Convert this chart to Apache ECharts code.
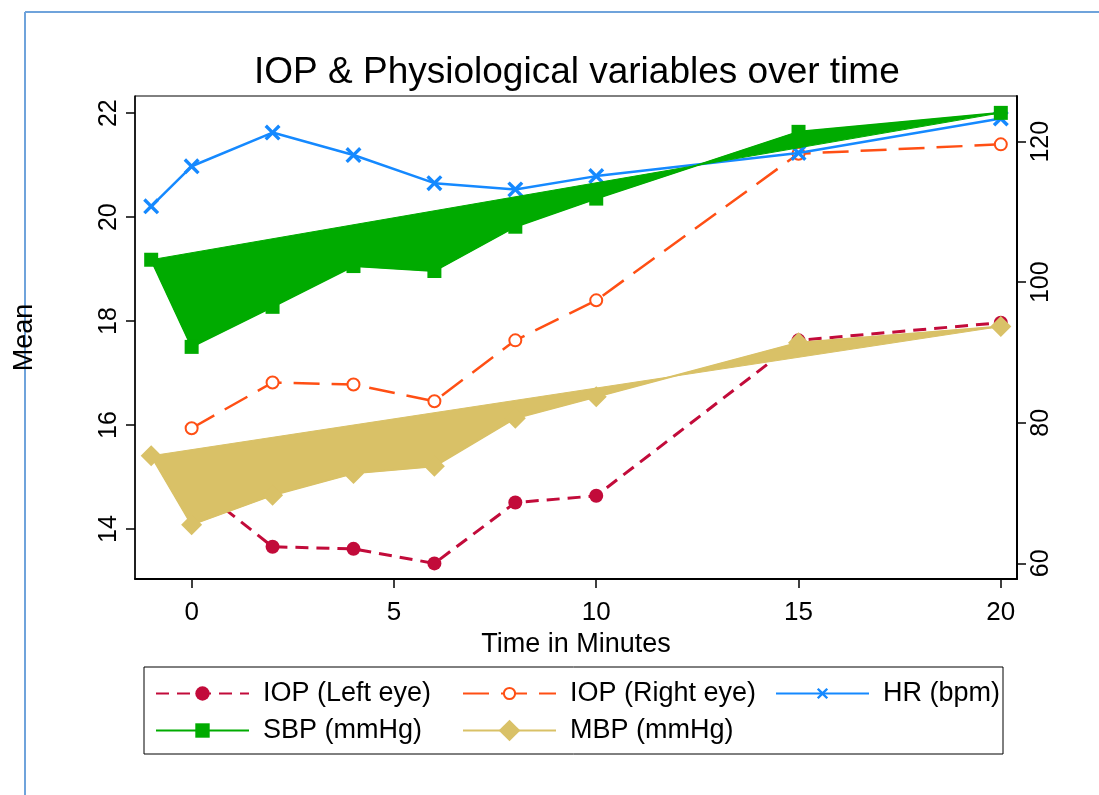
<!DOCTYPE html>
<html>
<head>
<meta charset="utf-8">
<script src="https://cdn.jsdelivr.net/npm/echarts@6/dist/echarts.min.js"></script>
<style>
  html, body { margin: 0; padding: 0; background: #fff; }
  #main { width: 1099px; height: 795px; }
</style>
</head>
<body>
<div id="main"></div>
<script>
// time points (minutes)
var time = [-1, 0, 2, 4, 6, 8, 10, 15, 20];
// IOP, left axis
var iopLeft = [null, 14.89, 13.66, 13.62, 13.34, 14.51, 14.64, 17.63, 17.97];
var iopRight = [null, 15.94, 16.82, 16.78, 16.46, 17.63, 18.40, 21.22, 21.40];
// physiological, right axis
var hr = [110.8, 116.5, 121.3, 118.1, 114.1, 113.2, 115.1, 118.4, 123.3];
var sbp = [103.2, 90.8, 96.5, 102.3, 101.6, 107.9, 111.9, 121.4, 124.1];
var mbp = [75.3, 65.5, 69.7, 72.8, 73.8, 80.65, 83.7, 91.4, 93.7];

var xTicks = [0, 5, 10, 15, 20];
var leftTicks = [14, 16, 18, 20, 22];
var rightTicks = [60, 80, 100, 120];

var FONT = 'Liberation Sans, Arial, sans-serif';
var cLeft = '#c20b3a', cRight = '#ff4f14', cHr = '#1589ff', cSbp = '#00ab00', cMbp = '#d9c167';

var xMark = 'path://M0,1.5L1.5,0L5,3.5L8.5,0L10,1.5L6.5,5L10,8.5L8.5,10L5,6.5L1.5,10L0,8.5L3.5,5Z';

function pairs(vals) {
    return time.map(function (t, i) { return [t, vals[i]]; });
}

// Stata-like area: closed polygon through the points
function areaSeries(name, vals, color, z) {
    return {
        name: name,
        type: 'custom',
        yAxisIndex: 1,
        silent: true,
        z: z,
        data: pairs(vals),
        renderItem: function (params, api) {
            if (params.dataIndex !== 0) return null;
            var pts = time.map(function (t, i) { return api.coord([t, vals[i]]); });
            return {
                type: 'polygon',
                shape: { points: pts },
                style: { fill: color, stroke: color, lineWidth: 1 }
            };
        }
    };
}

function oneLegend(name, left, top, itemHeight) {
    return {
        data: [name],
        left: left,
        top: top,
        padding: 0,
        itemWidth: 93,
        itemHeight: itemHeight,
        selectedMode: false,
        textStyle: { fontFamily: FONT, fontSize: 27, color: '#000', padding: [0, 0, 0, 9] }
    };
}

var chart = echarts.init(document.getElementById('main'));
chart.setOption({
    animation: false,
    backgroundColor: '#fff',
    title: {
        text: 'IOP & Physiological variables over time',
        left: 254,
        top: 54,
        padding: 0,
        textStyle: { fontFamily: FONT, fontSize: 37, fontWeight: 'normal', color: '#000' }
    },
    graphic: [
        { type: 'line', shape: { x1: 25, y1: 12, x2: 25, y2: 795 }, style: { stroke: '#6fa3db', lineWidth: 2 } },
        { type: 'line', shape: { x1: 25, y1: 12, x2: 1099, y2: 12 }, style: { stroke: '#6fa3db', lineWidth: 2 } },
        { type: 'rect', shape: { x: 144, y: 667, width: 859, height: 87 }, style: { fill: null, stroke: '#000', lineWidth: 1 } }
    ],
    legend: [
        oneLegend('IOP (Left eye)', 155, 680, 18),
        oneLegend('IOP (Right eye)', 462, 680, 14),
        oneLegend('HR (bpm)', 775, 680, 14),
        oneLegend('SBP (mmHg)', 155, 717, 18),
        oneLegend('MBP (mmHg)', 462, 717, 27)
    ],
    grid: {
        left: 135, top: 96, width: 882, height: 483,
        show: true, borderColor: '#000', borderWidth: 1, backgroundColor: '#fff'
    },
    xAxis: {
        type: 'value',
        min: -1.4, max: 20.4,
        name: 'Time in Minutes',
        nameLocation: 'middle',
        nameGap: 43,
        nameTextStyle: { fontFamily: FONT, fontSize: 27, color: '#000' },
        axisLine: { show: true, onZero: false, lineStyle: { color: '#000', width: 2 } },
        axisTick: { show: true, length: 9, customValues: xTicks, lineStyle: { color: '#000', width: 1.5 } },
        axisLabel: { customValues: xTicks, margin: 21, fontFamily: FONT, fontSize: 26, color: '#000' },
        splitLine: { show: false }
    },
    yAxis: [{
        type: 'value',
        position: 'left',
        min: 13.04, max: 22.33,
        name: 'Mean',
        nameLocation: 'middle',
        nameGap: 97,
        nameTextStyle: { fontFamily: FONT, fontSize: 27, color: '#000' },
        axisLine: { show: true, onZero: false, lineStyle: { color: '#000', width: 1.5 } },
        axisTick: { show: true, length: 9, customValues: leftTicks, lineStyle: { color: '#000', width: 1.5 } },
        axisLabel: { customValues: leftTicks, rotate: 90, margin: 13, fontFamily: FONT, fontSize: 25, color: '#000' },
        splitLine: { show: false }
    }, {
        type: 'value',
        position: 'right',
        min: 57.77, max: 126.5,
        axisLine: { show: true, onZero: false, lineStyle: { color: '#000', width: 2 } },
        axisTick: { show: true, length: 9, customValues: rightTicks, lineStyle: { color: '#000', width: 1.5 } },
        axisLabel: { customValues: rightTicks, rotate: 90, margin: 12, fontFamily: FONT, fontSize: 25, color: '#000' },
        splitLine: { show: false }
    }],
    series: [{
        name: 'IOP (Left eye)',
        type: 'line',
        yAxisIndex: 0,
        z: 2,
        data: pairs(iopLeft),
        symbol: 'circle',
        symbolSize: 14,
        itemStyle: { color: cLeft },
        lineStyle: { color: cLeft, width: 3, type: [13, 8] }
    }, {
        name: 'IOP (Right eye)',
        type: 'line',
        yAxisIndex: 0,
        z: 3,
        data: pairs(iopRight),
        symbol: 'emptyCircle',
        symbolSize: 12,
        itemStyle: { color: cRight, borderWidth: 3 },
        lineStyle: { color: cRight, width: 2.5, type: [26, 12] }
    }, {
        name: 'HR (bpm)',
        type: 'line',
        yAxisIndex: 1,
        z: 4,
        data: pairs(hr),
        symbol: xMark,
        symbolSize: 16,
        itemStyle: { color: cHr },
        lineStyle: { color: cHr, width: 2.5 }
    },
    areaSeries('SBP area', sbp, cSbp, 5),
    {
        name: 'SBP (mmHg)',
        type: 'line',
        yAxisIndex: 1,
        z: 6,
        data: pairs(sbp),
        symbol: 'rect',
        symbolSize: 14,
        itemStyle: { color: cSbp },
        lineStyle: { color: cSbp, width: 2 }
    },
    areaSeries('MBP area', mbp, cMbp, 7),
    {
        name: 'MBP (mmHg)',
        type: 'line',
        yAxisIndex: 1,
        z: 8,
        data: pairs(mbp),
        symbol: 'diamond',
        symbolSize: 21,
        itemStyle: { color: cMbp },
        lineStyle: { color: cMbp, width: 2 }
    }]
});
</script>
</body>
</html>
